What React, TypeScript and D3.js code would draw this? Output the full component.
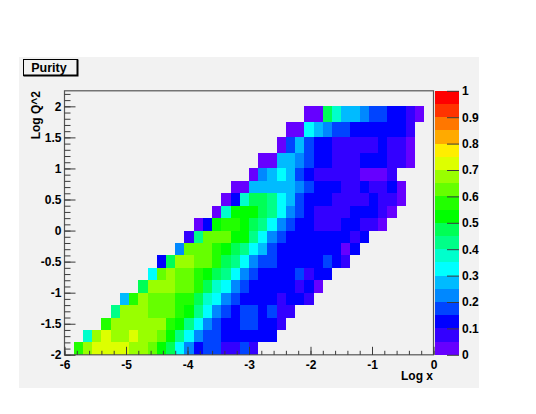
import React, { useEffect, useRef } from "react";
import * as d3 from "d3";

const title = "Purity";
const xTitle = "Log x";
const yTitle = "Log Q^2";
const binWidth = 0.15;
const yEdges = [2, 1.75, 1.5, 1.25, 1, 0.8, 0.6, 0.4, 0.2, 0, -0.2, -0.4, -0.6, -0.8, -1, -1.2, -1.4, -1.6, -1.8, -2];
const rowStart = [26, 24, 23, 21, 20, 18, 17, 16, 14, 13, 12, 10, 9, 8, 6, 5, 4, 2, 1];
const rows: number[][] = [
  [.03, .03, .48, .38, .28, .28, .23, .18, .18, .13, .13, .08, .03],
  [.03, .03, .33, .28, .23, .18, .18, .13, .13, .13, .13, .13, .13, .08],
  [.03, .18, .28, .18, .13, .13, .08, .08, .08, .08, .08, .13, .08, .08, .03],
  [.03, .03, .28, .28, .23, .18, .13, .13, .08, .08, .08, .13, .13, .13, .08, .08, .03],
  [.03, .23, .28, .33, .28, .18, .13, .08, .08, .08, .08, .08, .03, .03, .03, .08],
  [.03, .03, .28, .28, .28, .28, .28, .23, .18, .13, .13, .13, .08, .08, .13, .08, .08, .13, .03],
  [.03, .13, .38, .48, .48, .43, .33, .28, .18, .13, .13, .13, .08, .08, .08, .08, .13, .08, .08, .03],
  [.03, .38, .53, .53, .53, .48, .43, .33, .23, .18, .13, .08, .08, .08, .08, .13, .13, .13, .08, .03],
  [.03, .13, .53, .58, .58, .53, .48, .43, .33, .23, .18, .13, .13, .08, .08, .08, .13, .13, .08, .08, .03],
  [.08, .43, .63, .63, .63, .53, .53, .43, .33, .23, .18, .13, .13, .13, .13, .13, .13, .13, .08, .13],
  [.23, .63, .63, .63, .58, .53, .48, .43, .33, .28, .18, .13, .13, .13, .13, .13, .13, .13, .03, .13],
  [.13, .48, .68, .68, .63, .63, .58, .48, .43, .33, .23, .18, .18, .13, .13, .13, .13, .13, .18, .13, .08],
  [.33, .63, .68, .63, .63, .58, .53, .48, .43, .33, .23, .18, .13, .13, .13, .13, .18, .08, .13, .13],
  [.48, .68, .68, .68, .63, .63, .58, .48, .38, .33, .23, .18, .13, .13, .13, .13, .13, .08, .13, .03],
  [.28, .58, .68, .63, .63, .63, .58, .58, .48, .38, .33, .23, .18, .13, .13, .13, .13, .08, .13, .13, .08],
  [.43, .68, .68, .68, .63, .63, .63, .58, .53, .43, .33, .23, .18, .13, .18, .18, .13, .18, .08, .08],
  [.58, .68, .68, .68, .68, .68, .68, .58, .53, .43, .33, .23, .18, .13, .13, .18, .18, .13, .13, .08],
  [.38, .68, .73, .68, .68, .73, .68, .68, .63, .53, .43, .33, .23, .18, .18, .13, .13, .13, .13, .13, .13],
  [.58, .68, .73, .73, .73, .73, .68, .68, .63, .53, .48, .33, .23, .13, .18, .18, .08, .08, .18, .08],
];
const palette = [
  "#6600ff", "#3300ff", "#0000ff", "#0044ff", "#0088ff", "#00bbff", "#00ffff", "#00ffcc", "#00ff88", "#00ff55",
  "#00ff00", "#22ff00", "#66ff00", "#99ff00", "#ddff00", "#ffee00", "#ffaa00", "#ff7700", "#ff3300", "#ff0000",
];
const colorTicks = [0, 0.1, 0.2, 0.3, 0.4, 0.5, 0.6, 0.7, 0.8, 0.9, 1];
const xMajor = [-6, -5, -4, -3, -2, -1, 0];
const yMajor = [-2, -1.5, -1, -0.5, 0, 0.5, 1, 1.5, 2];

const font = "'Liberation Sans', Arial, sans-serif";
const axisColor = "#3a3a3a";
const panelFill = "#f2f2f2";

const x = d3.scaleLinear().domain([-6, 0]).range([64.5, 433.5]);
const y = d3.scaleLinear().domain([-2, 2.25]).range([354.8, 90.8]);
const z = d3.scaleLinear().domain([0, 1]).range([354.8, 90.8]);
const color = d3.scaleQuantize<string>().domain([0, 1]).range(palette);

export default function App() {
  const xRef = useRef<SVGGElement>(null);
  const xMinorRef = useRef<SVGGElement>(null);
  const yRef = useRef<SVGGElement>(null);
  const yMinorRef = useRef<SVGGElement>(null);
  const zRef = useRef<SVGGElement>(null);

  useEffect(() => {
    const style = (g: d3.Selection<SVGGElement, unknown, null, undefined>) => {
      g.selectAll(".domain").remove();
      g.selectAll("line").attr("stroke", axisColor).attr("stroke-width", 1);
      g.selectAll("text")
        .attr("fill", "#000")
        .attr("font-family", font)
        .attr("font-weight", "bold")
        .attr("font-size", 12);
    };
    const xg = d3.select(xRef.current!);
    xg.call(d3.axisBottom(x).tickValues(xMajor).tickSize(-8).tickPadding(9).tickFormat((v) => String(+v)) as any);
    style(xg);
    xg.selectAll("text").attr("dy", "0.4em");
    const xm = d3.select(xMinorRef.current!);
    xm.call(d3.axisBottom(x).tickValues(d3.range(-6, 0.01, 0.2)).tickSize(-4).tickFormat(() => "") as any);
    style(xm);

    const yg = d3.select(yRef.current!);
    yg.call(d3.axisLeft(y).tickValues(yMajor).tickSize(-11).tickPadding(3).tickFormat((v) => String(+v)) as any);
    style(yg);
    const ym = d3.select(yMinorRef.current!);
    ym.call(d3.axisLeft(y).tickValues(d3.range(-2, 2.26, 0.1)).tickSize(-6).tickFormat(() => "") as any);
    style(ym);

    const zg = d3.select(zRef.current!);
    zg.call(d3.axisRight(z).tickValues(colorTicks).tickSize(-12).tickPadding(3).tickFormat((v) => String(+v)) as any);
    style(zg);
  }, []);

  const x0 = x(-6);
  const x1 = x(0);
  const yBottom = y(-2);
  const yTop = y(2.25);
  const paletteLeft = 435;
  const paletteRight = 459;

  return (
    <svg width={536} height={414} style={{ position: "absolute", left: 0, top: 0, background: "#fff" }}>
      <rect x={19} y={57} width={460} height={331} fill={panelFill} />
      <rect x={x0} y={yTop} width={x1 - x0} height={yBottom - yTop} fill={panelFill} />
      <g shapeRendering="crispEdges">
        {rows.map((row, r) =>
          row.map((v, i) => {
            const lo = -6 + (rowStart[r] + i) * binWidth;
            return (
              <rect
                key={`${r}-${i}`}
                x={x(lo)}
                y={y(yEdges[r])}
                width={x(lo + binWidth) - x(lo)}
                height={y(yEdges[r + 1]) - y(yEdges[r])}
                fill={color(v)}
              />
            );
          })
        )}
        {palette.map((c, i) => (
          <rect
            key={c}
            x={paletteLeft}
            y={z((i + 1) * 0.05)}
            width={paletteRight - paletteLeft}
            height={z(i * 0.05) - z((i + 1) * 0.05)}
            fill={c}
          />
        ))}
      </g>
      <rect x={x0} y={yTop} width={x1 - x0} height={yBottom - yTop} fill="none" stroke="#555" strokeWidth={1.2} />
      <g ref={xMinorRef} transform={`translate(0,${yBottom})`} />
      <g ref={xRef} transform={`translate(0,${yBottom})`} />
      <g ref={yMinorRef} transform={`translate(${x0},0)`} />
      <g ref={yRef} transform={`translate(${x0},0)`} />
      <g ref={zRef} transform={`translate(${paletteRight},0)`} />
      <text x={433} y={380} textAnchor="end" fontFamily={font} fontWeight="bold" fontSize={12}>
        {xTitle}
      </text>
      <text transform="translate(40,91) rotate(-90)" textAnchor="end" fontFamily={font} fontWeight="bold" fontSize={12}>
        {yTitle}
      </text>
      <rect x={23.5} y={59.5} width={54} height={16} fill={panelFill} stroke="#000" strokeWidth={1} />
      <path d="M77.5 59.5V75.5H23.5" fill="none" stroke="#000" strokeWidth={2} />
      <text x={49} y={72} textAnchor="middle" fontFamily={font} fontWeight="bold" fontSize={12.5}>
        {title}
      </text>
    </svg>
  );
}
